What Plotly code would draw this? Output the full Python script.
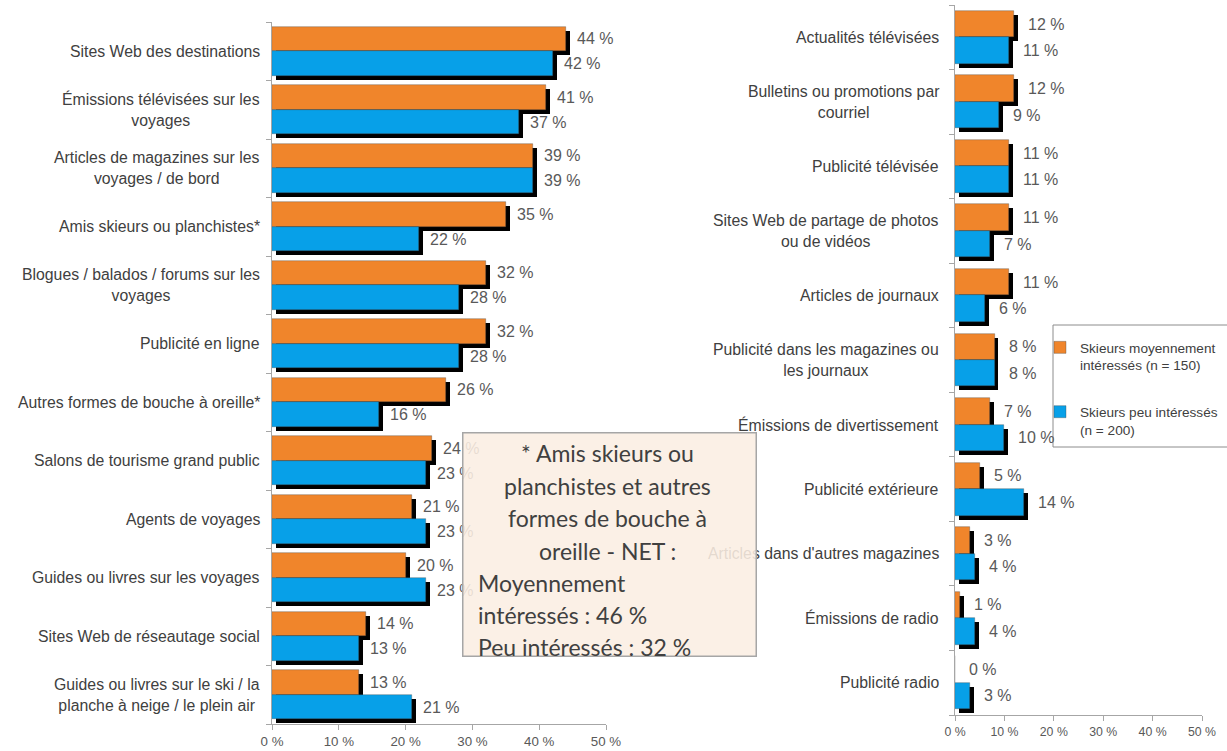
import plotly.graph_objects as go

# ---- data -------------------------------------------------------------
left_labels = [
    "Sites Web des destinations",
    "Émissions télévisées sur les<br>voyages",
    "Articles de magazines sur les<br>voyages / de bord",
    "Amis skieurs ou planchistes*",
    "Blogues / balados / forums sur les<br>voyages",
    "Publicité en ligne",
    "Autres formes de bouche à oreille*",
    "Salons de tourisme grand public",
    "Agents de voyages",
    "Guides ou livres sur les voyages",
    "Sites Web de réseautage social",
    "Guides ou livres sur le ski / la<br>planche à neige / le plein air",
]
left_moyen = [44, 41, 39, 35, 32, 32, 26, 24, 21, 20, 14, 13]
left_peu = [42, 37, 39, 22, 28, 28, 16, 23, 23, 23, 13, 21]

right_labels = [
    "Actualités télévisées",
    "Bulletins ou promotions par<br>courriel",
    "Publicité télévisée",
    "Sites Web de partage de photos<br>ou de vidéos",
    "Articles de journaux",
    "Publicité dans les magazines ou<br>les journaux",
    "Émissions de divertissement",
    "Publicité extérieure",
    "Articles dans d'autres magazines",
    "Émissions de radio",
    "Publicité radio",
]
right_moyen = [12, 12, 11, 11, 11, 8, 7, 5, 3, 1, 0]
right_peu = [11, 9, 11, 7, 6, 8, 10, 14, 4, 4, 3]

series_names = ["Skieurs moyennement<br>intéressés (n = 150)",
                "Skieurs peu intéressés<br>(n = 200)"]
x_ticks = [0, 10, 20, 30, 40, 50]
x_ticktext = ["0 %", "10 %", "20 %", "30 %", "40 %", "50 %"]

note_lines_center = ["* Amis skieurs ou", "planchistes et autres",
                     "formes de bouche à", "oreille - NET :"]
note_lines_left = ["Moyennement", "intéressés : 46 %", "Peu intéressés : 32 %"]

# ---- styling ----------------------------------------------------------
W, H = 1227, 751
ORANGE = "#F0852B"
BLUE = "#07A0E8"
LABEL_C = "#404040"
VALUE_C = "#595959"
AXIS_C = "#a6a6a6"
FONT = "Arial, Liberation Sans, sans-serif"


def px_x(p):
    return p / W


def px_y(p):
    return 1 - p / H


panels = [
    dict(labels=left_labels, a=left_moyen, b=left_peu, xa="x", ya="y",
         xdom=[px_x(272), px_x(606)], ydom=[px_y(724), px_y(22)],
         half=0.42, sx=0.6, sy=0.068, label_shift=-10, val_shift=9),
    dict(labels=right_labels, a=right_moyen, b=right_peu, xa="x2", ya="y2",
         xdom=[px_x(955), px_x(1202)], ydom=[px_y(715), px_y(5)],
         half=0.41, sx=0.8, sy=0.062, label_shift=-14, val_shift=12),
]

fig = go.Figure()
annotations = []

for k, p in enumerate(panels):
    n = len(p["labels"])
    idx = list(range(n))
    h = p["half"]
    # drop shadows first so the coloured bars sit on top of them
    for vals, off in ((p["a"], -h), (p["b"], 0.0)):
        fig.add_trace(go.Bar(
            orientation="h", x=vals, y=idx, base=p["sx"],
            offset=off + p["sy"], width=h,
            marker=dict(color="black", line=dict(width=0)),
            showlegend=False, hoverinfo="skip",
            xaxis=p["xa"], yaxis=p["ya"]))
    for j, (vals, off, col) in enumerate(((p["a"], -h, ORANGE),
                                          (p["b"], 0.0, BLUE))):
        fig.add_trace(go.Bar(
            orientation="h", x=vals, y=idx, offset=off, width=h,
            marker=dict(color=col, line=dict(width=0.6, color="rgba(70,70,70,0.6)")),
            name=series_names[j], legendgroup=f"g{j}",
            showlegend=(k == 1),
            xaxis=p["xa"], yaxis=p["ya"]))
    # category labels
    for i, lab in enumerate(p["labels"]):
        annotations.append(dict(
            xref="paper", yref=p["ya"], x=p["xdom"][0], y=i,
            xanchor="right", yanchor="middle", xshift=p["label_shift"],
            text=lab, align="center", showarrow=False,
            font=dict(family=FONT, size=15.8, color=LABEL_C)))
    # value labels
    for vals, yoff in ((p["a"], -h / 2), (p["b"], h / 2)):
        for i, v in enumerate(vals):
            annotations.append(dict(
                xref=p["xa"], yref=p["ya"], x=v, y=i + yoff,
                xanchor="left", yanchor="middle", xshift=p["val_shift"],
                text=f"{v} %", showarrow=False,
                font=dict(family=FONT, size=16, color=VALUE_C)))

# NET note box
box_l, box_r, box_t, box_b = 462, 757, 432, 657
annotations.append(dict(
    xref="paper", yref="paper",
    x=px_x((box_l + box_r) / 2), y=px_y((box_t + box_b) / 2),
    xanchor="center", yanchor="middle", text=" ", showarrow=False,
    width=box_r - box_l - 3, height=box_b - box_t - 3, borderpad=0,
    bgcolor="rgba(251,238,227,0.88)", bordercolor="#a6a6a6", borderwidth=1.5))
NOTE_FONT = dict(family="Lato, Open Sans, sans-serif", size=23, color=LABEL_C)
for i, line in enumerate(note_lines_center):
    annotations.append(dict(
        xref="paper", yref="paper", x=px_x(607), y=px_y(453 + 32.5 * i),
        xanchor="center", yanchor="middle", text=line, showarrow=False,
        font=NOTE_FONT))
for i, line in enumerate(note_lines_left):
    annotations.append(dict(
        xref="paper", yref="paper", x=px_x(476), y=px_y(583 + 32 * i),
        xanchor="left", yanchor="middle", text=line, showarrow=False,
        font=NOTE_FONT))

# legend frame (runs off the right edge of the page)
shapes = [dict(type="rect", xref="paper", yref="paper",
               x0=px_x(1053), x1=px_x(1240), y0=px_y(447), y1=px_y(325),
               fillcolor="white", line=dict(color="#8c8c8c", width=1),
               layer="below")]

axis_common = dict(showgrid=False, zeroline=False, showline=True,
                   linecolor=AXIS_C, linewidth=1, ticks="outside",
                   ticklen=5, tickcolor=AXIS_C, fixedrange=True,
                   automargin=False)

L, R = panels
fig.update_layout(
    width=W, height=H, autosize=False,
    margin=dict(l=0, r=0, t=0, b=0, autoexpand=False),
    paper_bgcolor="white", plot_bgcolor="rgba(0,0,0,0)",
    barmode="overlay", bargap=0,
    font=dict(family=FONT, color=VALUE_C),
    xaxis=dict(domain=L["xdom"], range=[0, 50], tickvals=x_ticks,
               ticktext=x_ticktext, anchor="y",
               tickfont=dict(size=13.3, color=VALUE_C), **axis_common),
    yaxis=dict(domain=L["ydom"], range=[len(left_labels) - 0.5, -0.5],
               tickvals=[i - 0.5 for i in range(len(left_labels) + 1)],
               ticktext=[""] * (len(left_labels) + 1), anchor="x",
               **axis_common),
    xaxis2=dict(domain=R["xdom"], range=[0, 50], tickvals=x_ticks,
                ticktext=x_ticktext, anchor="y2",
                tickfont=dict(size=12.3, color=VALUE_C), **axis_common),
    yaxis2=dict(domain=R["ydom"], range=[len(right_labels) - 0.5, -0.5],
                tickvals=[i - 0.5 for i in range(len(right_labels) + 1)],
                ticktext=[""] * (len(right_labels) + 1), anchor="x2",
                **axis_common),
    legend=dict(x=px_x(1040), y=px_y(332), xanchor="left", yanchor="top",
                bgcolor="rgba(0,0,0,0)", borderwidth=0,
                traceorder="grouped", tracegroupgap=26, valign="top",
                font=dict(family=FONT, size=13.6, color=LABEL_C),
                itemwidth=30),
    shapes=shapes,
    annotations=annotations,
)

fig.write_html("out.html")
